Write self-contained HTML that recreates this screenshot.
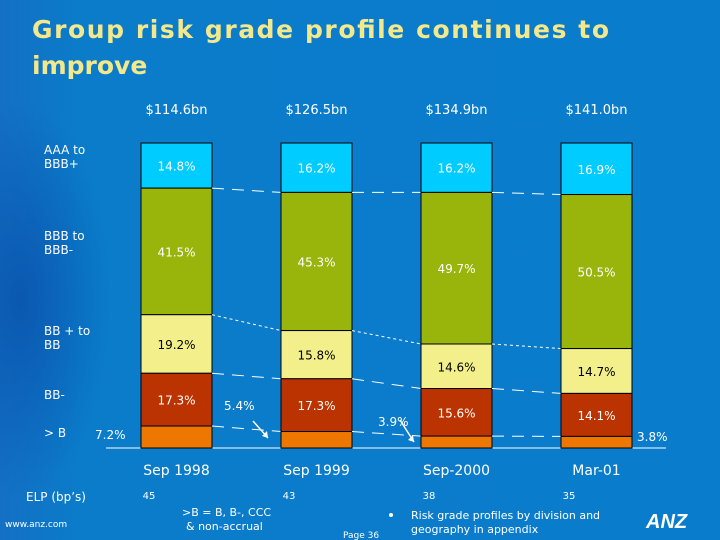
<!DOCTYPE html>
<html><head><meta charset="utf-8"><style>
body{margin:0;width:720px;height:540px;overflow:hidden;font-family:"DejaVu Sans","Liberation Sans",sans-serif}
#bg{position:absolute;left:0;top:0;width:720px;height:540px;background:radial-gradient(ellipse 90px 200px at 20px 300px,#0a58b0 0%,rgba(10,88,176,0) 100%),linear-gradient(90deg,#1470c4 0px,#0a7cca 80px,#0a7ccc 100%)}
</style></head><body>
<div id="bg"></div>
<svg id="c" width="720" height="540" style="position:absolute;left:0;top:0">
<text x="32" y="38" font-size="25" font-weight="bold" fill="#f3e98c" font-family="DejaVu Sans, sans-serif" textLength="577">Group risk grade profile continues to</text>
<text x="32" y="74" font-size="25" font-weight="bold" fill="#f3e98c" font-family="DejaVu Sans, sans-serif">improve</text>
</svg>
<script>
const categories=["Sep 1998","Sep 1999","Sep-2000","Mar-01"];
const totals=["$114.6bn","$126.5bn","$134.9bn","$141.0bn"];
const elp=[45,43,38,35];
const grades=["AAA to BBB+","BBB to BBB-","BB + to BB","BB-","> B"];
const aaa=[14.8,16.2,16.2,16.9];
const bbb=[41.5,45.3,49.7,50.5];
const bb=[19.2,15.8,14.6,14.7];
const bbm=[17.3,17.3,15.6,14.1];
const gtb=[7.2,5.4,3.9,3.8];
const series=[aaa,bbb,bb,bbm,gtb];
const colors=["#00ccff","#99b40a","#f3f08c","#bb3300","#ee7700"];
const txtCol=["#fff","#fff","#000","#fff","#fff"];
const svg=document.getElementById('c');const NS="http://www.w3.org/2000/svg";
function mk(t,a,txt){const e=document.createElementNS(NS,t);for(const k in a)e.setAttribute(k,a[k]);if(txt!==undefined)e.textContent=txt;svg.appendChild(e);return e;}
const top0=143,bot=448,bw=71;
const xs=i=>141+i*140;
const y=v=>bot-v/100*(bot-top0);
const bounds=categories.map((c,i)=>{let acc=100,b=[];series.forEach(s=>{b.push(acc);acc-=s[i];});b.push(0);return b;});
mk('line',{x1:106,y1:448,x2:666,y2:448,stroke:'#fff','stroke-width':1});
categories.forEach((c,i)=>{
 series.forEach((s,k)=>{
  const y1=y(bounds[i][k]),y2=y(bounds[i][k+1]);
  const r=mk('rect',{x:xs(i),y:y1,width:bw,height:y2-y1,fill:colors[k],stroke:'#000','stroke-width':1});
  
  
  if(k<4){const t=mk('text',{x:xs(i)+bw/2,y:(y1+y2)/2+5,'text-anchor':'middle','font-size':12,fill:txtCol[k]},s[i].toFixed(1)+'%');
  
  }
 });
 const tt=mk('text',{x:xs(i)+bw/2,y:114,'text-anchor':'middle','font-size':13,fill:'#fff'},totals[i]);
 
 
 const ct=mk('text',{x:xs(i)+bw/2,y:475,'text-anchor':'middle','font-size':14,fill:'#fff'},c);
 
 
 const et=mk('text',{x:xs(i)+8,y:499,'text-anchor':'middle','font-size':10,fill:'#fff'},elp[i]);
 
 
 if(i<3){for(let k=1;k<5;k++){const l=mk('line',{x1:xs(i)+bw,y1:y(bounds[i][k]),x2:xs(i+1),y2:y(bounds[i+1][k]),stroke:'#fff','stroke-width':1,'stroke-dasharray':k==2?'3,3':'12,8'});
  
  }}
});
const gl=[[95,439,gtb[0]],[224,410,gtb[1]],[378,426,gtb[2]],[637,441,gtb[3]]];
gl.forEach((g,i)=>{const t=mk('text',{x:g[0],y:g[1],'font-size':12,fill:'#fff'},g[2].toFixed(1)+'%');
 
 });
[[253,421,268,438],[400,420,414,442]].forEach(a=>{const l=mk('line',{x1:a[0],y1:a[1],x2:a[2],y2:a[3],stroke:'#fff','stroke-width':1.5});
 
 
 const p=mk('polygon',{points:`${a[2]},${a[3]} ${a[2]-6},${a[3]-2} ${a[2]-1},${a[3]-7}`,fill:'#fff'});
 
 });
const gy=[[154,168],[240,254],[335,349],[399],[437]];
const gt=[["AAA to","BBB+"],["BBB to","BBB-"],["BB + to","BB"],["BB-"],["> B"]];
gt.forEach((g,k)=>g.forEach((s,j)=>{const t=mk('text',{x:44,y:gy[k][j],'font-size':12,fill:'#fff'},s);
 
 }));
const extra=[[26,501,"ELP (bp’s)",12],[182,516,">B = B, B-, CCC",11],[186,530,"& non-accrual",11],[343,538,"Page 36",9],[411,519,"Risk grade profiles by division and",11],[411,533,"geography in appendix",11],[5,527,"www.anz.com",9]];
extra.forEach(e=>{const t=mk('text',{x:e[0],y:e[1],'font-size':e[3],fill:'#fff'},e[2]);
 
 });
const b=mk('circle',{cx:391,cy:515,r:2,fill:'#fff'});


const logo=mk('text',{x:646,y:528,'font-size':20,'font-weight':'bold','font-style':'italic',fill:'#fff','font-family':'Liberation Sans, sans-serif'},'ANZ');


</script>
</body></html>
